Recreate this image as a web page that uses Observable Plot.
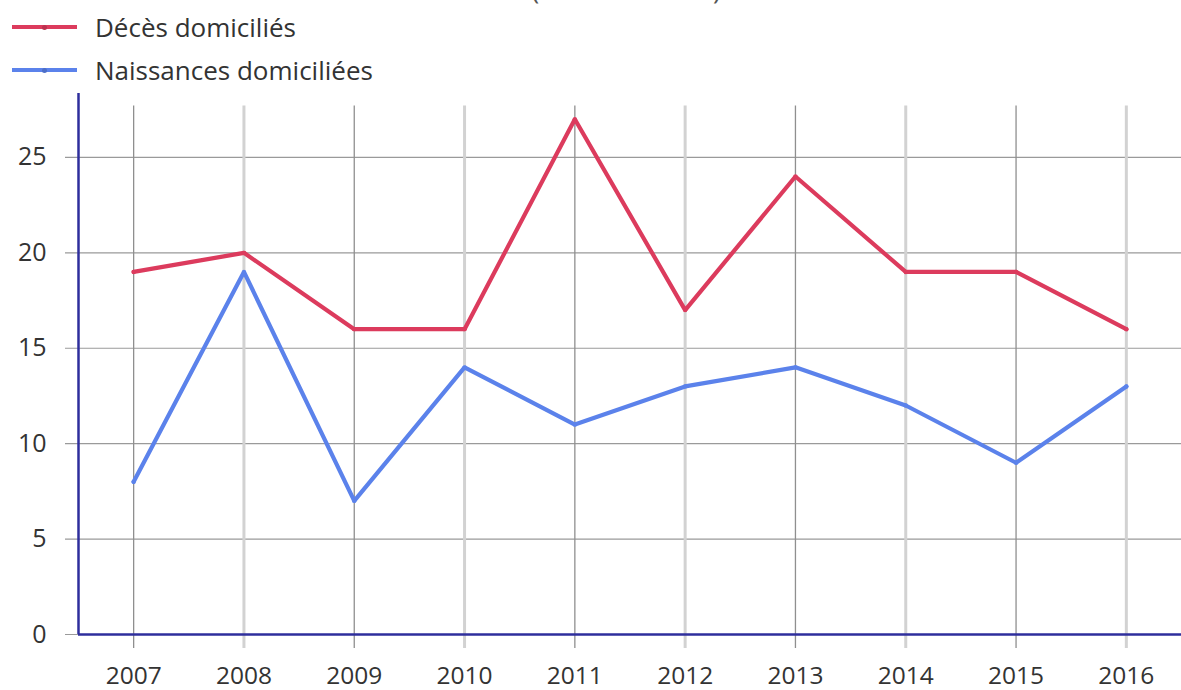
<!DOCTYPE html>
<html>
<head>
<meta charset="utf-8">
<script src="https://cdn.jsdelivr.net/npm/d3@7"></script>
<script src="https://cdn.jsdelivr.net/npm/@observablehq/plot@0.6"></script>
<style>
  body { margin: 0; background: #fff; font-family: "Open Sans", sans-serif; overflow: hidden; }
  #header { position: relative; height: 90px; width: 1181px; }
  #title { position: absolute; left: 0; width: 1252px; top: -29px; text-align: center; font-size: 26px; color: #555; white-space: nowrap; }
  .leg { position: absolute; left: 12px; display: flex; align-items: center; font-size: 26px; color: #333; white-space: nowrap; }
  .sw { width: 65px; height: 4px; margin-right: 18px; position: relative; }
  .sw::after { content: ""; position: absolute; left: 30px; top: -0.5px; width: 5px; height: 5px; border-radius: 50%; background: inherit; filter: brightness(0.85); }
</style>
</head>
<body>
<div id="header">
  <div id="title">(Source : INSEE)</div>
  <div class="leg" style="top:9px"><div class="sw" style="background:#dc3b5d"></div><span>Décès domiciliés</span></div>
  <div class="leg" style="top:52px"><div class="sw" style="background:#5b82eb"></div><span>Naissances domiciliées</span></div>
</div>
<div id="chart"></div>
<script>
const years = [2007, 2008, 2009, 2010, 2011, 2012, 2013, 2014, 2015, 2016];
const deces = [19, 20, 16, 16, 27, 17, 24, 19, 19, 16];
const naissances = [8, 19, 7, 14, 11, 13, 14, 12, 9, 13];
const yTicks = [0, 5, 10, 15, 20, 25];
const seriesNames = ["Décès domiciliés", "Naissances domiciliées"];
const seriesColors = ["#dc3b5d", "#5b82eb"];

const rows = [];
years.forEach((yr, i) => {
  rows.push({year: yr, value: deces[i], series: seriesNames[0]});
  rows.push({year: yr, value: naissances[i], series: seriesNames[1]});
});
const gridTop = 27.7;
const yTop = 28.35;
const oddYears = years.filter(y => y % 2 === 1);
const evenYears = years.filter(y => y % 2 === 0);

const chart = Plot.plot({
  width: 1181,
  height: 600,
  marginTop: 3,
  marginBottom: 56,
  marginLeft: 78,
  marginRight: 0,
  style: {fontFamily: "Open Sans", fontSize: "25px", color: "#333", background: "#fff"},
  x: {domain: [2006.5, 2016.5]},
  y: {domain: [0, yTop]},
  color: {domain: seriesNames, range: seriesColors},
  marks: [
    Plot.ruleY(yTicks, {y: d => d, stroke: "#9a9a9a", strokeWidth: 1.2, insetLeft: -13}),
    Plot.ruleX(evenYears, {x: d => d, y1: gridTop, y2: 0, stroke: "#d2d2d2", strokeWidth: 3, insetBottom: -14}),
    Plot.ruleX(oddYears, {x: d => d, y1: gridTop, y2: 0, stroke: "#8f8f8f", strokeWidth: 1.3, insetBottom: -14}),
    Plot.axisY({ticks: yTicks, tickSize: 0, tickPadding: 32, fontSize: 25, fill: "#333", label: null}),
    Plot.axisX({ticks: years, tickFormat: d => String(d), tickSize: 0, tickPadding: 32, fontSize: 24.5, fill: "#333", label: null}),
    Plot.line(rows, {x: "year", y: "value", z: "series", stroke: "series", strokeWidth: 4.2, strokeLinejoin: "miter", strokeLinecap: "round"}),
    Plot.dot(rows, {x: "year", y: "value", fill: "series", r: 2.2}),
    Plot.ruleX([2006.5], {y1: 0, y2: yTop, stroke: "#2e2e9c", strokeWidth: 2.5}),
    Plot.ruleY([0], {stroke: "#2e2e9c", strokeWidth: 2.5})
  ]
});
document.getElementById("chart").appendChild(chart);
</script>
</body>
</html>
